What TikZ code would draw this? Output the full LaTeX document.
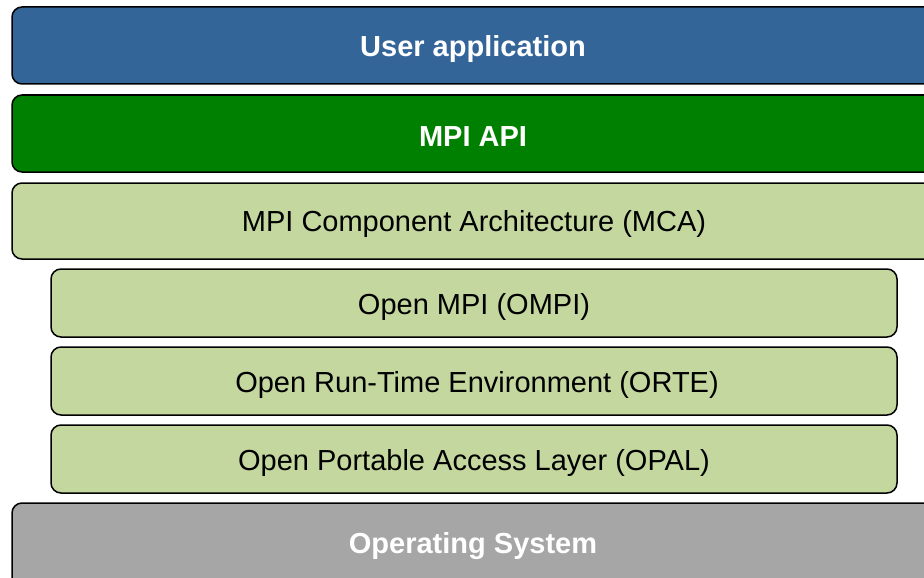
\documentclass[tikz,border=0pt]{standalone}
\usepackage{fontspec}
\setmainfont{Liberation Sans}
\definecolor{appblue}{RGB}{52,101,153}
\definecolor{apigreen}{RGB}{0,128,0}
\definecolor{lightgreen}{RGB}{196,215,158}
\definecolor{osgray}{RGB}{166,166,166}
\begin{document}
\begin{tikzpicture}[x=1pt,y=-1pt,
  layer/.style={draw=black,line width=1.5pt,rounded corners=10pt},
  lbl/.style={font=\fontsize{29}{33}\selectfont,text=black},
  blbl/.style={font=\fontsize{29}{33}\selectfont\bfseries,text=white}]
\useasboundingbox (0,0) rectangle (924,578);
\begin{scope}
\clip (0,0) rectangle (924,578);
\path[layer,fill=appblue] (12,7) rectangle (936,84);
\path[layer,fill=apigreen] (12,95) rectangle (936,172);
\path[layer,fill=lightgreen] (12,183) rectangle (936,259);
\path[layer,fill=lightgreen] (51,269) rectangle (897,337);
\path[layer,fill=lightgreen] (51,347) rectangle (897,415);
\path[layer,fill=lightgreen] (51,425) rectangle (897,493);
\path[layer,fill=osgray] (12,503) rectangle (936,590);
\end{scope}
\node[blbl] (app) at (473,49) {User application};
\node[blbl] (api) at (473,137) {MPI API};
\node[lbl] (mca) at (474,224) {MPI Component Architecture (MCA)};
\node[lbl] (ompi) at (474,307) {Open MPI (OMPI)};
\node[lbl] (orte) at (477,385) {Open Run-Time Environment (ORTE)};
\node[lbl] (opal) at (474,463) {Open Portable Access Layer (OPAL)};
\node[blbl] (os) at (473,546) {Operating System};
\end{tikzpicture}
\end{document}
